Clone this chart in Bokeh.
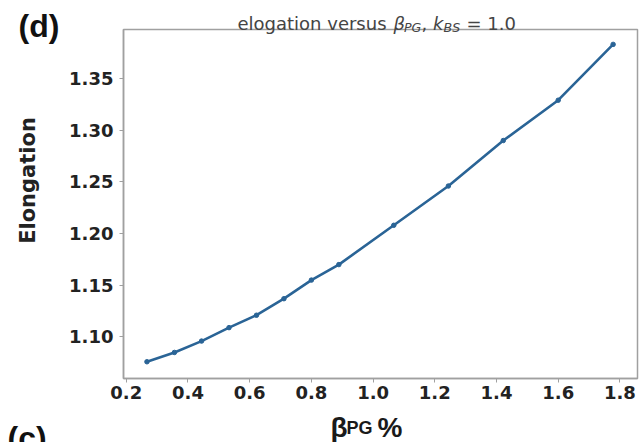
import math
from bokeh.plotting import figure
from bokeh.models import FixedTicker, NumeralTickFormatter, Range1d
from bokeh.core.properties import value
from bokeh.embed import file_html
from bokeh.resources import INLINE

# ---- data ----
beta_pg = [0.267, 0.356, 0.444, 0.533, 0.622, 0.711, 0.800, 0.889,
           1.067, 1.244, 1.422, 1.600, 1.778]
elongation = [1.076, 1.085, 1.096, 1.109, 1.121, 1.137, 1.155, 1.170,
              1.208, 1.246, 1.290, 1.329, 1.383]
x_ticks = [0.2, 0.4, 0.6, 0.8, 1.0, 1.2, 1.4, 1.6, 1.8]
y_ticks = [1.10, 1.15, 1.20, 1.25, 1.30, 1.35]

LINE = "#2a6496"
SPINE = "#a0a0a0"
X0, X1 = 0.191, 1.857
Y0, Y1 = 1.0598, 1.3974

p = figure(width=641, height=442, output_backend="svg", toolbar_location=None,
           x_range=Range1d(X0, X1), y_range=Range1d(Y0, Y1),
           min_border_left=123, min_border_right=4, min_border_top=29,
           min_border_bottom=64, title=None)

p.background_fill_color = "white"
p.border_fill_color = "white"
p.outline_line_color = SPINE
p.outline_line_width = 1.5
p.grid.visible = False

p.line(beta_pg, elongation, line_color=LINE, line_width=2.6)
p.scatter(beta_pg, elongation, size=4.5, fill_color=LINE, line_color=LINE)

for ax in (p.xaxis[0], p.yaxis[0]):
    ax.axis_line_color = SPINE
    ax.axis_line_width = 1.5
    ax.major_tick_line_color = SPINE
    ax.major_tick_out = 4
    ax.major_tick_in = 0
    ax.minor_tick_line_color = None
    ax.major_label_text_font = "DejaVu Sans"
    ax.major_label_text_font_style = "bold"
    ax.major_label_text_font_size = "18px"
    ax.major_label_text_color = "#222222"

p.xaxis.ticker = FixedTicker(ticks=x_ticks)
p.yaxis.ticker = FixedTicker(ticks=y_ticks)
p.xaxis.formatter = NumeralTickFormatter(format="0.0")
p.yaxis.formatter = NumeralTickFormatter(format="0.00")
p.xaxis.major_label_standoff = 3
p.yaxis.major_label_standoff = 6

FL, FT = 123, 29  # frame top-left corner on the canvas

def lab(text, cx, cy, size, font="DejaVu Sans", style="normal", color="#222222",
        align="left", baseline="alphabetic", angle=0.0):
    # anchored at the frame's top-left corner, shifted in screen pixels
    p.text(x=[X0], y=[Y1], text=[text], x_offset=cx - FL, y_offset=cy - FT,
           text_font=value(font), text_font_style=style, text_font_size=size,
           text_color=color, text_align=align, text_baseline=baseline,
           angle=angle, level="overlay")

# title: elogation versus β_PG, k_BS = 1.0
TC = "#444444"
lab("elogation versus", 237, 23, "18px", color=TC)
lab("β", 393, 23, "18px", style="italic", color=TC)
lab("PG", 403.5, 27, "12.6px", style="italic", color=TC)
lab(",", 421, 23, "18px", color=TC)
lab("k", 432.5, 23, "18px", style="italic", color=TC)
lab("BS", 443, 27, "12.6px", style="italic", color=TC)
lab("= 1.0", 466, 23, "18px", color=TC)

# panel letters
lab("(d)", 18, 25, "32px", font="Liberation Sans", style="bold",
    color="#111111", baseline="middle")
lab("(c)", 7, 437, "32px", font="Liberation Sans", style="bold",
    color="#111111", baseline="middle")

# axis labels
lab("Elongation", 27, 180, "21px", style="bold", color="#222222",
    align="center", baseline="middle", angle=math.pi / 2)
lab("β", 330, 427, "28px", font="Liberation Sans", style="bold", color="#1a1a1a")
lab("PG", 346, 427, "18px", font="Liberation Sans", style="bold", color="#1a1a1a")
lab("%", 377, 427, "28px", font="Liberation Sans", style="bold", color="#1a1a1a")

open("out.html", "w").write(file_html(p, INLINE))
